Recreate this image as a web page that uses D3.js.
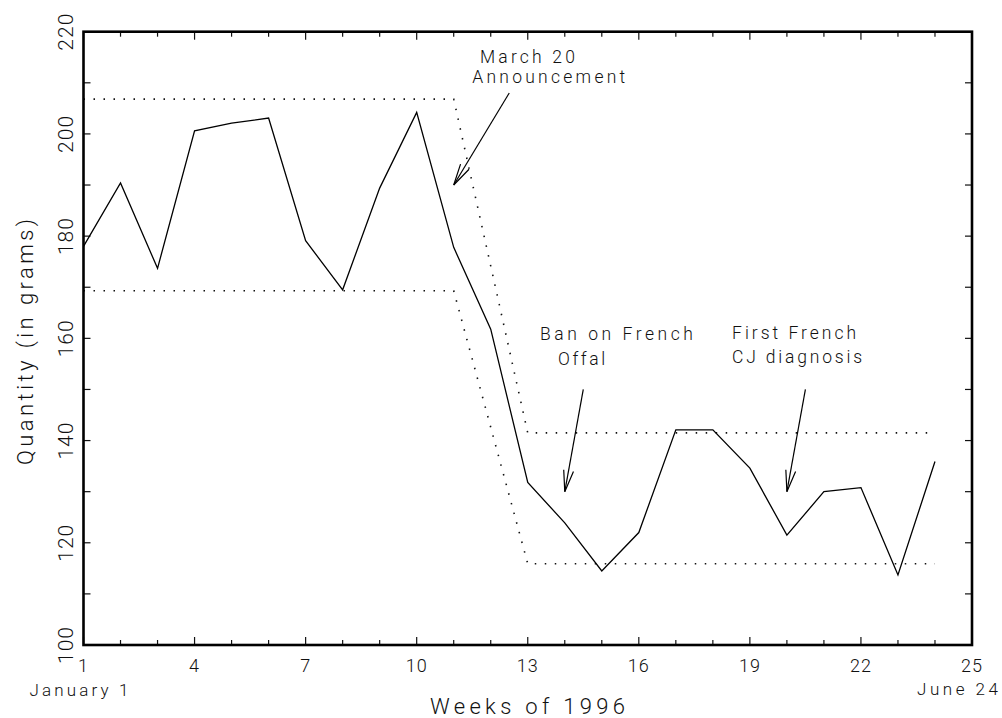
<!DOCTYPE html>
<html>
<head>
<meta charset="utf-8">
<script src="https://cdn.jsdelivr.net/npm/d3@7/dist/d3.min.js"></script>
<style>
  html, body { margin: 0; padding: 0; background: #fff; }
  svg text { font-family: Roboto, "DejaVu Sans", sans-serif; font-weight: 300; fill: #111; }
</style>
</head>
<body>
<svg id="chart" width="1002" height="718"></svg>
<script>
// Weekly purchase quantity, first half of 1996
const weeks = [1, 2, 3, 4, 5, 6, 7, 8, 9, 10, 11, 12, 13, 14, 15, 16, 17, 18, 19, 20, 21, 22, 23, 24];
const quantity = [178.0, 190.4, 173.7, 200.6, 202.1, 203.1, 179.1, 169.5, 189.4, 204.2, 177.8, 161.8,
                  131.8, 123.9, 114.5, 122.0, 142.1, 142.1, 134.6, 121.5, 130.0, 130.8, 113.7, 135.9];

// Band before and after the March 20 announcement (dotted)
const bandWeeks = [1, 11, 13, 24];
const bandUpper = [206.8, 206.8, 141.5, 141.5];
const bandLower = [169.3, 169.3, 115.9, 115.9];

// Axis ticks
const xTickLabels = [1, 4, 7, 10, 13, 16, 19, 22, 25];
const xMinorTicks = [1, 2, 3, 4, 5, 6, 7, 8, 9, 10, 11, 12, 13, 14, 15, 16, 17, 18, 19, 20, 21, 22, 23, 24, 25];
const yTickLabels = [100, 120, 140, 160, 180, 200, 220];
const yMinorTicks = [100, 110, 120, 130, 140, 150, 160, 170, 180, 190, 200, 210, 220];

// Event annotations: arrow tail -> tip in (week, grams)
const arrowFrom = [[12.5, 208], [14.5, 150], [20.5, 150]];
const arrowTo   = [[11.0, 190], [14.0, 130], [20.0, 130]];
const noteText  = ["March 20", "Announcement", "Ban on French", "Offal", "First French", "CJ diagnosis"];
const noteAt    = [[11.71, 213.8], [11.50, 209.9], [13.33, 159.7], [13.82, 154.8], [18.52, 159.9], [18.52, 155.2]];
const noteWidth = [95, 153, 153, 47, 124, 130];

(function draw() {
  const svg = d3.select("#chart");
  const plotL = 83.5, plotR = 972, plotT = 31.7, plotB = 645;

  const x = d3.scaleLinear().domain([1, 25]).range([plotL, plotR]);
  const y = d3.scaleLinear().domain([100, 220]).range([plotB, plotT]);

  // Inward ticks on all four sides
  const isMajor = w => (w - 1) % 3 === 0;
  const tickG = svg.append("g").attr("stroke", "#111").attr("stroke-width", 1.2);
  xMinorTicks.forEach(w => {
    const len = isMajor(w) ? 8 : 5;
    tickG.append("line").attr("x1", x(w)).attr("x2", x(w)).attr("y1", plotB).attr("y2", plotB - len);
    tickG.append("line").attr("x1", x(w)).attr("x2", x(w)).attr("y1", plotT).attr("y2", plotT + len);
  });
  yMinorTicks.forEach(v => {
    tickG.append("line").attr("x1", plotL).attr("x2", plotL + 7).attr("y1", y(v)).attr("y2", y(v));
    tickG.append("line").attr("x1", plotR).attr("x2", plotR - 7).attr("y1", y(v)).attr("y2", y(v));
  });

  // Dotted band
  const line = d3.line().x(d => x(d[0])).y(d => y(d[1]));
  [bandUpper, bandLower].forEach(vals => {
    svg.append("path")
      .datum(bandWeeks.map((w, i) => [w, vals[i]]))
      .attr("d", line)
      .attr("fill", "none")
      .attr("stroke", "#111")
      .attr("stroke-width", 1.6)
      .attr("stroke-dasharray", "1.5,8.5");
  });

  // Weekly series
  svg.append("path")
    .datum(weeks.map((w, i) => [w, quantity[i]]))
    .attr("d", line)
    .attr("fill", "none")
    .attr("stroke", "#000")
    .attr("stroke-width", 1.3)
    .attr("stroke-linejoin", "miter");

  // Frame
  svg.append("rect")
    .attr("x", plotL).attr("y", plotT)
    .attr("width", plotR - plotL).attr("height", plotB - plotT)
    .attr("fill", "none").attr("stroke", "#000").attr("stroke-width", 2.6);

  // Annotation arrows with open heads
  const arrows = svg.append("g").attr("stroke", "#000").attr("stroke-width", 1.2).attr("fill", "none");
  arrowFrom.forEach((from, i) => {
    const to = arrowTo[i];
    const x0 = x(from[0]), y0 = y(from[1]), x1 = x(to[0]), y1 = y(to[1]);
    arrows.append("line").attr("x1", x0).attr("y1", y0).attr("x2", x1).attr("y2", y1);
    const ang = Math.atan2(y0 - y1, x0 - x1);
    const hl = 22, ha = 13 * Math.PI / 180;
    const p1 = [x1 + hl * Math.cos(ang - ha), y1 + hl * Math.sin(ang - ha)];
    const p2 = [x1 + hl * Math.cos(ang + ha), y1 + hl * Math.sin(ang + ha)];
    arrows.append("path").attr("d", `M${p1[0]},${p1[1]}L${x1},${y1}L${p2[0]},${p2[1]}`);
  });

  // Annotation labels
  noteText.forEach((t, i) => {
    svg.append("text")
      .attr("x", x(noteAt[i][0])).attr("y", y(noteAt[i][1]))
      .attr("font-size", 17.5)
      .attr("textLength", noteWidth[i])
      .attr("lengthAdjust", "spacing")
      .text(t);
  });

  // X tick labels
  svg.append("g").selectAll("text").data(xTickLabels).join("text")
    .attr("x", d => x(d)).attr("y", 672)
    .attr("text-anchor", "middle")
    .attr("font-size", 18)
    .style("letter-spacing", "1px")
    .text(d => d);

  // Y tick labels, rotated
  svg.append("g").selectAll("text").data(yTickLabels).join("text")
    .attr("transform", d => `translate(73,${y(d)}) rotate(-90)`)
    .attr("text-anchor", "middle")
    .attr("font-size", 21)
    .style("letter-spacing", "1px")
    .text(d => d);

  // Axis titles and date endpoints
  svg.append("text")
    .attr("x", 430).attr("y", 714)
    .attr("font-size", 22)
    .attr("textLength", 195).attr("lengthAdjust", "spacing")
    .text("Weeks of 1996");

  svg.append("text")
    .attr("transform", "translate(33,465) rotate(-90)")
    .attr("font-size", 22)
    .attr("textLength", 246).attr("lengthAdjust", "spacing")
    .text("Quantity (in grams)");

  svg.append("text")
    .attr("x", 29.5).attr("y", 696)
    .attr("font-size", 17)
    .attr("textLength", 99).attr("lengthAdjust", "spacing")
    .text("January 1");

  svg.append("text")
    .attr("x", 917).attr("y", 695)
    .attr("font-size", 17)
    .attr("textLength", 81).attr("lengthAdjust", "spacing")
    .text("June 24");
})();
</script>
</body>
</html>
